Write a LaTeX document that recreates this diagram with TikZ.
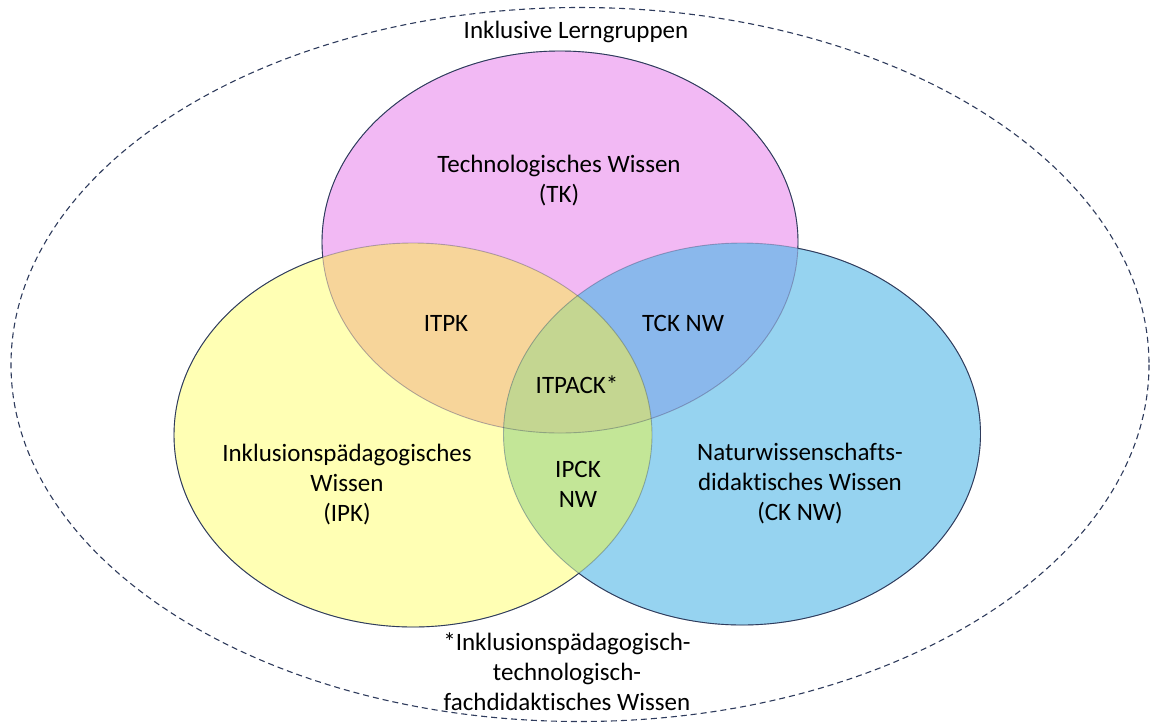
\documentclass[tikz,border=0pt]{standalone}
\usepackage{fontspec}
\setmainfont[Ligatures=NoCommon]{Carlito}
\definecolor{cpink}{HTML}{F2B9F4}
\definecolor{cyel}{HTML}{FFFFB4}
\definecolor{cblue}{HTML}{96D3F0}
\definecolor{cpy}{HTML}{F7D59A}
\definecolor{cpb}{HTML}{8AB8EC}
\definecolor{cyb}{HTML}{C3E697}
\definecolor{cpyb}{HTML}{C4D691}
\definecolor{cline}{HTML}{2E3B5C}
\begin{document}
\begin{tikzpicture}[x=1pt,y=-1pt,
  lbl/.style={font=\fontsize{25}{30}\selectfont, align=center, text=black, inner sep=0pt},
  outer/.style={draw=cline, line width=1.1pt, dash pattern=on 6pt off 4pt},
  rim/.style={draw=cline, line width=0.9pt},
  faint/.style={draw=cline, draw opacity=0.35, line width=0.9pt}]
\useasboundingbox (0,0) rectangle (1150,726);
\def\Pk{(560,242) ellipse [x radius=238, y radius=191]}
\def\Ye{(413,435) ellipse [x radius=239, y radius=192]}
\def\Bl{(742,434) ellipse [x radius=238.5, y radius=191]}
% outer group
\draw[outer] (580,364.5) ellipse [x radius=569, y radius=357];
% base fills
\fill[cyel] \Ye;
\fill[cblue] \Bl;
\fill[cpink] \Pk;
% pairwise overlaps
\begin{scope}\clip \Pk; \fill[cpy] \Ye; \fill[cpb] \Bl; \end{scope}
\begin{scope}\clip \Ye; \fill[cyb] \Bl; \end{scope}
\begin{scope}\clip \Pk; \clip \Ye; \fill[cpyb] \Bl; \end{scope}
% faint inner outlines
\path[faint] \Pk; \path[faint] \Ye; \path[faint] \Bl;
% dark outer outlines (parts outside the other ellipses)
\begin{scope}[even odd rule]
  \clip (-10,-10) rectangle (1160,740) \Ye;
  \clip (-10,-10) rectangle (1160,740) \Bl;
  \path[rim] \Pk;
\end{scope}
\begin{scope}[even odd rule]
  \clip (-10,-10) rectangle (1160,740) \Pk;
  \clip (-10,-10) rectangle (1160,740) \Bl;
  \path[rim] \Ye;
\end{scope}
\begin{scope}[even odd rule]
  \clip (-10,-10) rectangle (1160,740) \Pk;
  \clip (-10,-10) rectangle (1160,740) \Ye;
  \path[rim] \Bl;
\end{scope}
% labels
\node[lbl, anchor=base] (group) at (576,38) {Inklusive Lerngruppen};
\node[lbl] (tk) at (559,181) {Technologisches Wissen\\(TK)};
\node[lbl, anchor=base] (itpk) at (446,331) {ITPK};
\node[lbl, anchor=base] (tck) at (683,331) {TCK NW};
\node[lbl, anchor=base] (itpack) at (577,393) {ITPACK*};
\node[lbl] (ipck) at (578,484) {IPCK\\NW};
\node[lbl] (ipk) at (347,484.5) {Inklusionspädagogisches\\Wissen\\(IPK)};
\node[lbl] (ck) at (800,484) {Naturwissenschafts-\\didaktisches Wissen\\(CK NW)};
\node[lbl] (note) at (567,671.5) {*Inklusionspädagogisch-\\technologisch-\\fachdidaktisches Wissen};
\end{tikzpicture}
\end{document}
